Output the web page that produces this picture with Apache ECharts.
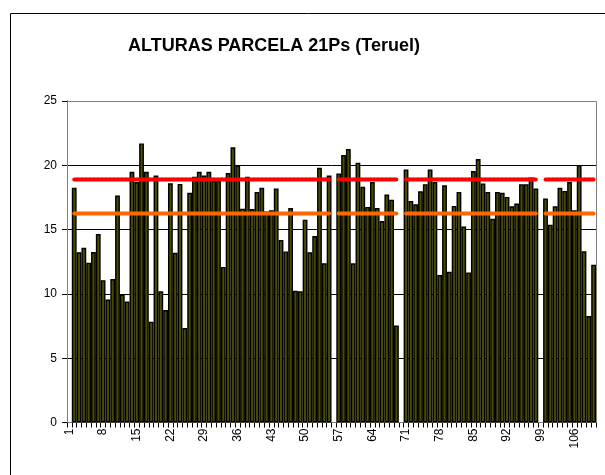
<!DOCTYPE html>
<html>
<head>
<meta charset="utf-8">
<script src="https://cdn.jsdelivr.net/npm/echarts@6/dist/echarts.min.js"></script>
<style>
  html, body { margin: 0; padding: 0; background: #fff; }
  #chart { width: 605px; height: 475px; }
</style>
</head>
<body>
<div id="chart"></div>
<script>
const titleText = 'ALTURAS PARCELA 21Ps (Teruel)';

const categories = [
  '1','2','3','4','5','6','7','8','9','10',
  '11','12','13','14','15','16','17','18','19','20',
  '21','22','23','24','25','26','27','28','29','30',
  '31','32','33','34','35','36','37','38','39','40',
  '41','42','43','44','45','46','47','48','49','50',
  '51','52','53','54','55','56','57','58','59','60',
  '61','62','63','64','65','66','67','68','69','70',
  '71','72','73','74','75','76','77','78','79','80',
  '81','82','83','84','85','86','87','88','89','90',
  '91','92','93','94','95','96','97','98','99','100',
  '101','102','103','104','105','106','107','108','109','110'
];

const alturas = [
  null, 18.25, 13.24, 13.58, 12.43, 13.26, 14.65, 11.07, 9.56, 11.15,
  17.65, 9.95, 9.40, 19.5, 18.7, 21.7, 19.5, 7.84, 19.2, 10.2,
  8.75, 18.6, 13.2, 18.55, 7.34, 17.86, 19.1, 19.5, 19.2, 19.5,
  18.8, 18.8, 12.1, 19.4, 21.4, 20.0, 16.63, 19.1, 16.6, 17.93,
  18.25, 16.4, 16.5, 18.2, 14.2, 13.3, 16.68, 10.24, 10.2, 15.77,
  13.24, 14.5, 19.8, 12.38, 19.2, null, 19.37, 20.8, 21.27, 12.38,
  20.2, 18.33, 16.76, 18.7, 16.68, 15.66, 17.72, 17.33, 7.55, null,
  19.68, 17.23, 16.97, 17.98, 18.53, 19.68, 18.7, 11.46, 18.45, 11.72,
  16.84, 17.93, 15.24, 11.67, 19.55, 20.49, 18.58, 17.93, 15.85, 17.93,
  17.86, 17.54, 16.81, 17.02, 18.53, 18.53, 19.05, 18.19, null, 17.41,
  15.38, 16.81, 18.25, 18.01, 18.7, 16.5, 20.02, 13.32, 8.28, 12.27
];

const lineaRoja = [
  null, 18.9, 18.9, 18.9, 18.9, 18.9, 18.9, 18.9, 18.9, 18.9,
  18.9, 18.9, 18.9, 18.9, 18.9, 18.9, 18.9, 18.9, 18.9, 18.9,
  18.9, 18.9, 18.9, 18.9, 18.9, 18.9, 18.9, 18.9, 18.9, 18.9,
  18.9, 18.9, 18.9, 18.9, 18.9, 18.9, 18.9, 18.9, 18.9, 18.9,
  18.9, 18.9, 18.9, 18.9, 18.9, 18.9, 18.9, 18.9, 18.9, 18.9,
  18.9, 18.9, 18.9, 18.9, 18.9, null, 18.9, 18.9, 18.9, 18.9,
  18.9, 18.9, 18.9, 18.9, 18.9, 18.9, 18.9, 18.9, 18.9, null,
  18.9, 18.9, 18.9, 18.9, 18.9, 18.9, 18.9, 18.9, 18.9, 18.9,
  18.9, 18.9, 18.9, 18.9, 18.9, 18.9, 18.9, 18.9, 18.9, 18.9,
  18.9, 18.9, 18.9, 18.9, 18.9, 18.9, 18.9, 18.9, null, 18.9,
  18.9, 18.9, 18.9, 18.9, 18.9, 18.9, 18.9, 18.9, 18.9, 18.9
];

const lineaNaranja = [
  null, 16.25, 16.25, 16.25, 16.25, 16.25, 16.25, 16.25, 16.25, 16.25,
  16.25, 16.25, 16.25, 16.25, 16.25, 16.25, 16.25, 16.25, 16.25, 16.25,
  16.25, 16.25, 16.25, 16.25, 16.25, 16.25, 16.25, 16.25, 16.25, 16.25,
  16.25, 16.25, 16.25, 16.25, 16.25, 16.25, 16.25, 16.25, 16.25, 16.25,
  16.25, 16.25, 16.25, 16.25, 16.25, 16.25, 16.25, 16.25, 16.25, 16.25,
  16.25, 16.25, 16.25, 16.25, 16.25, null, 16.25, 16.25, 16.25, 16.25,
  16.25, 16.25, 16.25, 16.25, 16.25, 16.25, 16.25, 16.25, 16.25, null,
  16.25, 16.25, 16.25, 16.25, 16.25, 16.25, 16.25, 16.25, 16.25, 16.25,
  16.25, 16.25, 16.25, 16.25, 16.25, 16.25, 16.25, 16.25, 16.25, 16.25,
  16.25, 16.25, 16.25, 16.25, 16.25, 16.25, 16.25, 16.25, null, 16.25,
  16.25, 16.25, 16.25, 16.25, 16.25, 16.25, 16.25, 16.25, 16.25, 16.25
];

const yMin = 0, yMax = 25, yStep = 5;
const FONT = '"Liberation Sans", Arial, sans-serif';

const chart = echarts.init(document.getElementById('chart'), null, { renderer: 'canvas' });
chart.setOption({
  backgroundColor: '#ffffff',
  animation: false,
  graphic: [{
    type: 'rect',
    shape: { x: 10.5, y: 13.5, width: 700, height: 600 },
    style: { fill: 'none', stroke: '#000', lineWidth: 1 },
    z: 0, silent: true
  }, {
    type: 'rect',
    shape: { x: 67.5, y: 101.5, width: 529, height: 321 },
    style: { fill: 'none', stroke: '#808080', lineWidth: 1 },
    z: 1, silent: true
  }],
  title: {
    text: titleText,
    left: 269,
    top: 32,
    textAlign: 'center',
    textStyle: { fontFamily: FONT, fontWeight: 'bold', fontSize: 18, color: '#000' }
  },
  grid: { left: 67, right: 9, top: 101, bottom: 52.5, containLabel: false },
  xAxis: {
    type: 'category',
    data: categories,
    boundaryGap: true,
    axisLine: { show: true, lineStyle: { color: '#000', width: 1 } },
    axisTick: { show: true, interval: 0, length: 5, lineStyle: { color: '#000' } },
    axisLabel: { interval: 6, rotate: 90, margin: 6, fontFamily: FONT, fontSize: 12, color: '#000' },
    splitLine: { show: false }
  },
  yAxis: {
    type: 'value',
    min: yMin, max: yMax, interval: yStep,
    axisLine: { show: true, lineStyle: { color: '#000', width: 1 } },
    axisTick: { show: true, length: 5, lineStyle: { color: '#000' } },
    axisLabel: { margin: 10, fontFamily: FONT, fontSize: 12, color: '#000' },
    splitLine: { show: true, lineStyle: { color: '#000', width: 1 } }
  },
  series: [{
    type: 'bar',
    data: alturas,
    barCategoryGap: '0%',
    itemStyle: { color: '#4a4a00', borderColor: '#000', borderWidth: 1.4 },
    z: 2
  }, {
    type: 'line',
    data: lineaNaranja,
    symbol: 'none',
    connectNulls: false,
    lineStyle: { color: '#ff6600', width: 4, cap: 'round' },
    z: 3
  }, {
    type: 'line',
    data: lineaRoja,
    symbol: 'none',
    connectNulls: false,
    lineStyle: { color: '#ff0000', width: 4, type: [3, 1], cap: 'round' },
    z: 4
  }]
});
</script>
</body>
</html>
